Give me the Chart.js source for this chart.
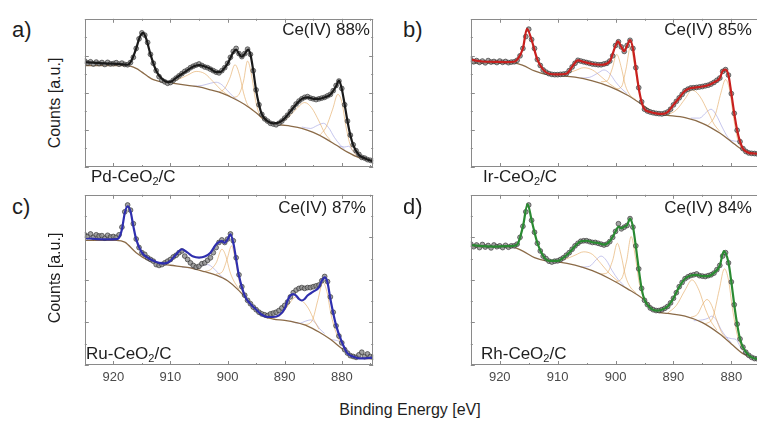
<!DOCTYPE html>
<html>
<head>
<meta charset="utf-8">
<script src="https://cdn.jsdelivr.net/npm/chart.js@4/dist/chart.umd.min.js"></script>
<style>
  html, body { margin: 0; padding: 0; background: #fff; overflow: hidden; }
  #wrap { position: relative; width: 757px; height: 421px; overflow: hidden; font-family: "Liberation Sans", Arial, sans-serif; color: #1e1e1e; }
  canvas { position: absolute; }
  .txt { position: absolute; white-space: nowrap; }
  .letter { font-size: 22px; line-height: 22px; }
  .ce { font-size: 17px; line-height: 17px; width: 110px; text-align: right; }
  .sample { font-size: 17px; line-height: 17px; }
  .sample sub { font-size: 11px; vertical-align: -3px; line-height: 0; }
  .ylab { font-size: 16px; line-height: 16px; transform: translate(-50%, -50%) rotate(-90deg); }
  .xlab { font-size: 16px; line-height: 16px; transform: translate(-50%, -50%); }
</style>
</head>
<body>
<div id="wrap">
  <canvas id="chartA" width="298" height="178" style="left:80px;top:14px"></canvas>
  <canvas id="chartB" width="302" height="178" style="left:466px;top:14px"></canvas>
  <canvas id="chartC" width="298" height="199" style="left:80px;top:190px"></canvas>
  <canvas id="chartD" width="302" height="199" style="left:466px;top:190px"></canvas>

  <div class="txt letter" style="left:12px;top:19px">a)</div>
  <div class="txt letter" style="left:403px;top:19px">b)</div>
  <div class="txt letter" style="left:12px;top:196px">c)</div>
  <div class="txt letter" style="left:403px;top:196px">d)</div>

  <div class="txt ce" style="left:260px;top:21px">Ce(IV) 88%</div>
  <div class="txt ce" style="left:642px;top:21px">Ce(IV) 85%</div>
  <div class="txt ce" style="left:256px;top:199px">Ce(IV) 87%</div>
  <div class="txt ce" style="left:642px;top:199px">Ce(IV) 84%</div>

  <div class="txt sample" style="left:91px;top:168px">Pd-CeO<sub>2</sub>/C</div>
  <div class="txt sample" style="left:483px;top:168px">Ir-CeO<sub>2</sub>/C</div>
  <div class="txt sample" style="left:86px;top:345px">Ru-CeO<sub>2</sub>/C</div>
  <div class="txt sample" style="left:481px;top:345px">Rh-CeO<sub>2</sub>/C</div>

  <div class="txt ylab" style="left:55px;top:103px">Counts [a.u.]</div>
  <div class="txt ylab" style="left:55px;top:278px">Counts [a.u.]</div>
  <div class="txt xlab" style="left:410px;top:410px">Binding Energy [eV]</div>
</div>

<script>
// x axis
const tickLabels = [920, 910, 900, 890, 880];
const minorTicks = [915, 905, 895, 885, 875];

// energy grid of the measured points (eV)
const energyHalf = [
  925, 924.5, 924, 923.5, 923, 922.5, 922, 921.5, 921, 920.5,
  920, 919.5, 919, 918.5, 918, 917.5, 917, 916.5, 916, 915.5,
  915, 914.5, 914, 913.5, 913, 912.5, 912, 911.5, 911, 910.5,
  910, 909.5, 909, 908.5, 908, 907.5, 907, 906.5, 906, 905.5,
  905, 904.5, 904, 903.5, 903, 902.5, 902, 901.5, 901, 900.5,
  900, 899.5, 899, 898.5, 898, 897.5, 897, 896.5, 896, 895.5,
  895, 894.5, 894, 893.5, 893, 892.5, 892, 891.5, 891, 890.5,
  890, 889.5, 889, 888.5, 888, 887.5, 887, 886.5, 886, 885.5,
  885, 884.5, 884, 883.5, 883, 882.5, 882, 881.5, 881, 880.5,
  880, 879.5, 879, 878.5, 878, 877.5, 877, 876.5, 876, 875.5,
  875, 874.5
];

// ---- a) Pd-CeO2/C ----
const pointsA = [
  71.5, 70.2, 71, 69.5, 70.8, 69.8, 70.5, 69.2, 70.6, 69.6,
  69.8, 70.4, 69.4, 70.1, 69.2, 69, 70.5, 74, 80, 86.5,
  90.5, 89, 84, 76, 70, 65, 61, 58.5, 57.5, 56.5,
  57, 58.5, 60, 61.5, 63, 64.5, 65.5, 67, 68, 68.8,
  69.5, 68.5, 67.5, 67, 66, 65, 64, 63.5, 65, 67,
  70, 74, 78, 80, 76.5, 74.5, 76.5, 79.5, 76, 65,
  52, 42, 35.5, 32.5, 31, 29.5, 29, 28.5, 29.5, 31,
  33, 35, 37.5, 40, 42.5, 44.5, 46, 47, 47.5, 46.5,
  46, 45.5, 46, 46.5, 47, 48, 49, 51.5, 55, 58,
  53, 42, 31, 21.5, 15, 11, 8.5, 6.5, 6, 5,
  4.5, 4
];
const fitA = [
  [925, 70.8], [923, 70.2], [921, 69.8], [919, 69.5], [917.5, 69], [916.8, 72], [916, 80],
  [915.4, 87.5], [914.8, 90.5], [914.2, 86], [913.5, 76], [912.5, 65], [911.5, 59.5], [910.5, 57.3],
  [910, 57.4], [909, 60.2], [907.5, 64], [906, 67.8], [905, 68.8], [904, 67.8], [903, 66.3],
  [902, 64], [901.3, 64], [900.5, 67], [900, 69.7], [899, 77.3], [898.5, 79.2], [898, 76.3],
  [897.5, 74.4], [897, 76.3], [896.4, 79.2], [896, 76], [895.5, 65], [895, 51.7], [894.5, 42.2],
  [894, 35.6], [893, 30.9], [892, 29.4], [891, 30], [890, 32.8], [889, 37.5], [888, 42.2],
  [887, 46], [886, 47], [885, 46], [884, 46], [883, 47], [882, 48.9], [881, 54.5], [880.5, 58.3],
  [880, 52.7], [879.5, 42.2], [879, 30.9], [878.5, 21.4], [878, 14.8], [877, 8.1], [876, 5.9],
  [875, 4.4], [874.5, 4]
];
const backgroundA = [
  [925, 68.4], [917.5, 68.4], [916, 66.5], [915, 64], [914, 61.2], [913, 58.9], [912, 57.8],
  [910, 56.8], [907, 55.1], [905, 54], [903, 52], [901, 49.8], [899, 46.4], [897, 42.2],
  [895, 36.6], [893, 30.3], [891, 28.6], [889, 27.6], [887, 26.1], [885, 23.3], [883, 19.5],
  [881, 14.8], [879, 10], [877, 6.3], [875, 4.5], [874.5, 4.3]
];
const orangeA = [
  [[911, 56.5], [909, 58.5], [907, 62], [905.5, 64.5], [904, 63], [902.5, 57.5], [901, 51.5], [899.5, 47.5]],
  [[901.5, 50.5], [900.5, 53], [899.6, 60], [898.7, 69], [897.9, 62], [897.2, 50], [896.5, 42], [895.5, 38.5]],
  [[899, 46.8], [898, 49], [897.2, 58], [896.5, 71.5], [895.8, 62], [895.1, 45], [894.4, 35], [893.5, 31.5]],
  [[891, 29], [889.5, 33], [888, 39], [886.5, 43.5], [885.3, 40], [884, 31], [883, 23], [882, 18]],
  [[884, 21], [882.8, 26.5], [881.6, 39], [880.7, 49], [880, 44], [879.3, 28], [878.5, 14.5], [877.5, 8]]
];
const violetA = [
  [[906, 54.5], [904.5, 55], [903, 56.5], [902, 57.2], [901, 55.5], [900, 51.5], [899, 47.5], [898, 44.5]],
  [[887, 27], [885.5, 26], [884.3, 28], [883.2, 29.5], [882.3, 26.5], [881.3, 20], [880.3, 15], [879.5, 12]],
  [[880.5, 14], [879.5, 13.5], [878.8, 14], [878, 10.5], [877, 6.8], [876, 5]]
];

// ---- b) Ir-CeO2/C ----
const pointsB = [
  72.5, 71, 71.8, 70.6, 71.5, 70.3, 71.8, 70.8, 71.2, 70.5,
  71.5, 70.6, 71.2, 70.4, 70.8, 71, 72, 75, 80, 88,
  93, 86, 80, 72.5, 68.5, 65.5, 64, 63, 62.5, 62.3,
  62.3, 62.5, 62.7, 63, 65, 67.5, 70, 72, 71.5, 71,
  70.5, 70, 69.5, 69.3, 69, 69, 69.5, 70, 71.5, 75,
  82, 84.5, 81, 78, 82, 85.5, 80, 67, 53.5, 44,
  39, 37.8, 37.1, 36.6, 36.2, 36, 35.8, 36.3, 37.1, 39,
  41.9, 44.3, 46.7, 49, 51.4, 52.5, 53.3, 53.5, 53.7, 54,
  54.3, 54.8, 55.2, 56, 57.1, 58.5, 60, 64.5, 65.7, 62,
  49.5, 36.2, 24.8, 17.1, 12.4, 10.5, 9.5, 9.2, 9.1, 8.8,
  8.6, 8.5
];
const fitB = [
  [925, 72.4], [923, 71.2], [921, 71], [919, 70.8], [917.5, 71], [917, 72.4], [916, 80],
  [915.3, 93.3], [914.5, 85.7], [913.5, 72.4], [912.5, 65.7], [911.5, 62.9], [910, 62.5],
  [908.5, 62.9], [907.5, 67.6], [906.5, 72], [905.5, 70.9], [904, 69.5], [902.5, 69], [901, 71.4],
  [900, 81.9], [899.6, 84.8], [899, 81], [898.5, 78.1], [898, 81.9], [897.5, 85.7], [897, 80],
  [896.5, 66.7], [896, 53.3], [895.5, 43.8], [895, 39], [894, 37.1], [893, 36.2], [892, 35.8],
  [891, 37.1], [890, 41.9], [889, 46.7], [888, 51.4], [887, 53.3], [886, 53.7], [885, 54.3],
  [884, 55.2], [883, 57.1], [882, 60], [881.5, 64.8], [881, 65.7], [880.5, 61.9], [880, 49.5],
  [879.5, 36.2], [879, 24.8], [878.5, 17.1], [878, 12.4], [877, 9.5], [876, 9.1], [874.5, 8.6]
];
const backgroundB = [
  [925, 70.1], [917.5, 70.1], [916, 68.6], [914, 64.8], [912, 62.5], [910, 61.7], [907, 60.6],
  [904, 58.1], [901, 54.3], [898, 48.6], [895, 41], [893, 35.8], [891, 34.8], [888, 33.3],
  [885, 29.5], [882, 22.9], [880, 17.1], [878, 11.4], [876, 9.3], [874.5, 8.8]
];
const orangeB = [
  [[911, 61.5], [909, 62.5], [907, 65], [905.5, 67], [904, 65.5], [902.5, 61], [901, 56], [899.5, 52]],
  [[902.5, 57.5], [901.5, 58], [900.6, 66], [899.8, 76], [899, 67], [898.3, 55], [897.5, 48.5], [896.5, 45.5]],
  [[900, 52.5], [899, 54], [898.2, 66], [897.4, 81.5], [896.7, 68], [896, 52], [895.3, 42], [894.5, 39]],
  [[891, 35.2], [889.5, 38.5], [888, 46], [886.8, 52], [885.5, 48], [884, 37], [883, 29], [882, 24]],
  [[884, 28], [882.8, 35], [881.8, 50], [881, 59], [880.3, 52], [879.6, 33], [878.8, 17], [877.8, 11.5]]
];
const violetB = [
  [[906, 60], [904.5, 60.5], [903, 63.5], [902, 65.5], [901, 63], [900, 57.5], [899, 53], [898, 49.5]],
  [[887, 33], [885.5, 33], [884.3, 37], [883.5, 39], [882.6, 35], [881.6, 27], [880.6, 20], [879.5, 15.5]],
  [[880.5, 18.5], [879.5, 17.5], [878.8, 17], [878, 13], [877, 10], [876, 9.3]]
];

// ---- c) Ru-CeO2/C ----
const pointsC = [
  76.5, 75.5, 77, 75, 76.5, 75.8, 76, 74.5, 76.2, 75.2,
  75.5, 75, 76.5, 81, 90, 94, 91, 83, 74, 69,
  66, 65, 63, 62, 61, 59, 58.5, 59, 60, 61,
  62, 63.5, 64.5, 66, 67, 64, 62, 60, 58.5, 57.5,
  58, 59.5, 60, 61.5, 63, 66, 69, 72, 73.5, 72,
  74, 77, 73, 63, 53, 46, 41, 38, 36, 34,
  32.5, 31, 30, 29.5, 29, 30, 30.5, 31, 32, 33.5,
  35, 37, 40, 42.5, 44, 45, 45.5, 45, 45.5, 45.5,
  46, 46.5, 47, 49.5, 52, 49, 40, 31, 23, 17,
  13, 9, 7, 5.5, 5, 4.5, 6, 7.5, 5, 6.5,
  5, 4.5
];
const fitC = [
  [925, 74.5], [923, 74], [921, 73.8], [919.5, 73.9], [919, 74.8], [918.5, 79.6], [918, 89.3],
  [917.5, 93.2], [917, 90.3], [916.5, 81.6], [916, 73.8], [915, 66], [914, 63.1], [913, 61.2],
  [912, 60], [911, 59.7], [910, 61.2], [909, 65], [908, 68], [907, 66], [906, 63.7], [905, 63.1],
  [904, 63.7], [903, 66], [902, 70.9], [901, 72.8], [900.5, 71.8], [900, 73.8], [899.5, 76.7],
  [899, 71.8], [898.5, 62.1], [898, 52.4], [897, 40.8], [896, 35.9], [895, 32.6], [894, 29.5],
  [893, 28.2], [892, 28.2], [891, 29.1], [890, 33], [889.5, 37.9], [889, 40.8], [888.5, 41.7],
  [888, 40.8], [887.5, 38.8], [887, 37.9], [886.5, 38.8], [886, 40.8], [885, 43.1], [884, 45.6],
  [883.5, 49.5], [883, 51.5], [882.5, 48.5], [882, 38.8], [881, 23.3], [880, 13.6], [879, 6.8],
  [878, 4.9], [877, 3.9], [876, 3.9], [874.5, 4.3]
];
const backgroundC = [
  [925, 73.2], [919.5, 73.2], [918, 72.2], [916, 66], [914, 61.7], [912, 59.6], [910, 58.6],
  [907, 57.3], [904, 54.8], [902, 52.8], [900, 49.5], [898, 43.7], [896, 35.9], [894, 29.3],
  [892, 27], [890, 26.2], [888, 24.9], [886, 22.9], [884, 19.4], [882, 15.1], [880, 9.7],
  [878, 4.8], [876, 3.8], [874.5, 3.7]
];
const orangeC = [
  [[904, 55], [903, 56], [902, 60], [901, 68], [900.3, 64], [899.6, 55], [899, 50], [898, 44.5]],
  [[902, 53.5], [901, 54.5], [900.1, 62], [899.3, 70], [898.6, 61], [898, 50], [897.3, 42], [896.5, 37.5]],
  [[892, 27.2], [890.5, 30], [889, 37], [888, 40], [887, 38], [885.8, 33], [884.8, 26], [884, 21]],
  [[886.5, 23.5], [885.2, 26], [884.2, 38], [883.3, 48.5], [882.6, 43], [881.9, 30], [881, 19], [880, 11.5]]
];
const violetC = [
  [[908, 57.5], [906, 57], [904.5, 58.5], [903.5, 59], [902.5, 57], [901.5, 53.5], [900.5, 50.5]],
  [[889, 25.8], [887.5, 24.5], [886.3, 25.8], [885.5, 26.5], [884.7, 25], [883.8, 21], [883, 18.5]],
  [[882, 15], [881, 14.5], [880, 13], [879.2, 9.5], [878.2, 6], [877, 4.2]]
];

// ---- d) Rh-CeO2/C ----
const pointsD = [
  71, 69.5, 70.5, 69, 70.8, 69.3, 70.2, 68.8, 70.5, 69.5,
  70, 69, 70.3, 69.2, 70, 70, 71, 75, 81.5, 90,
  94, 85, 78, 71.5, 67, 64, 62.5, 61, 60.5, 61,
  61.2, 62, 63, 64.5, 66, 68, 70, 71.5, 72.7, 73,
  73, 72.5, 72, 72, 71.5, 71, 70.5, 71, 72.5, 75,
  78.5, 83, 80, 81, 82, 86, 81, 70, 56.5, 45,
  38, 35.5, 33.5, 32.5, 32, 32, 32.5, 33.3, 34.4, 36.5,
  39.2, 42.5, 46, 48.5, 50.7, 51.8, 52.6, 53, 53.5, 52.5,
  52.2, 52, 52.5, 53, 54, 56, 58.5, 64, 66, 60,
  48.8, 35.4, 24, 15.3, 10.5, 7.5, 5.7, 4.5, 3.8, 3.6,
  3.5, 3.4
];
const fitD = [
  [925, 70.5], [923, 69.8], [921, 69.6], [919, 69.8], [918, 69.8], [917, 70.7], [916, 81.3],
  [915.2, 94.6], [914.5, 85.1], [913.5, 71.7], [912.5, 64.1], [911.5, 61.2], [910, 61.2],
  [909, 63.1], [908, 66], [907, 69.8], [906, 72.7], [905, 73], [904, 72.1], [903, 71.7],
  [902, 70.7], [901, 72.7], [900, 78.4], [899.5, 81.3], [899, 80.3], [898.5, 81.3], [898, 82.2],
  [897.5, 86], [897, 81.3], [896.5, 69.8], [896, 56.4], [895.5, 44.9], [895, 38.2], [894, 33.5],
  [893, 31.9], [892, 32.5], [891, 34.4], [890, 39.2], [889, 45.9], [888, 50.7], [887, 52.6],
  [886, 53], [885, 52.2], [884, 52.2], [883, 54.1], [882, 58.3], [881.3, 66.9], [880.5, 60.2],
  [880, 48.8], [879.5, 35.4], [879, 23.9], [878.5, 15.3], [878, 10.5], [877, 5.7], [876, 3.8],
  [874.5, 3.4]
];
const backgroundD = [
  [925, 69.4], [918, 69.4], [916, 66.9], [914, 63.1], [912, 61.2], [910, 60.6], [907, 58.7],
  [904, 55.4], [901, 50.7], [898, 44.9], [895, 38.2], [893, 31.5], [891, 30.3], [888, 28.7],
  [885, 24.9], [882, 18.2], [880, 12.4], [878, 6.7], [876, 3.8], [874.5, 3.4]
];
const orangeD = [
  [[911, 60.8], [909, 61.8], [907, 64.5], [905.5, 66.5], [904, 65], [902.5, 59.5], [901, 53.5], [899.5, 49]],
  [[902.5, 53.5], [901.5, 54], [900.5, 61.5], [899.7, 71.5], [899, 64], [898.3, 52.5], [897.5, 46], [896.5, 42.5]],
  [[900, 49], [899, 50.5], [898.1, 61], [897.3, 75.5], [896.6, 64], [895.9, 48], [895.2, 40], [894.3, 35]],
  [[891, 30.5], [889.5, 35], [888, 44], [886.8, 50], [885.6, 44], [884.5, 33], [883.5, 25.5], [882.5, 20.5]],
  [[887, 28], [885.8, 30], [884.9, 36], [884.2, 38.5], [883.4, 35], [882.6, 27], [881.8, 20], [881, 16]],
  [[884.5, 24], [883.2, 28], [882.1, 44], [881.2, 56.5], [880.5, 50], [879.8, 33], [879, 18], [878, 8.5]]
];
const violetD = [
  [[906, 57.5], [904.5, 58], [903.3, 62], [902.5, 64], [901.6, 61.5], [900.6, 55.5], [899.5, 50], [898.5, 46.5]],
  [[886.5, 26], [885, 26.5], [884, 27.5], [883.4, 28.7], [882.6, 26.5], [881.8, 21], [881, 17], [880, 13]],
  [[881, 16.5], [880, 15.5], [879.2, 15], [878.5, 11], [877.5, 6.5], [876.5, 4.3]]
];

const FONT = '"Liberation Sans", Arial, sans-serif';
const toXY = arr => arr.map(([x, y]) => ({ x, y }));

// box + inward ticks on all four sides
const framePlugin = {
  id: 'frame',
  afterDraw(chart) {
    const { ctx, chartArea: a, scales } = chart;
    const xs = scales.x, ys = scales.y;
    ctx.save();
    ctx.strokeStyle = '#8a8a8a';
    ctx.lineWidth = 1;
    ctx.strokeRect(Math.round(a.left) + 0.5, Math.round(a.top) + 0.5,
      Math.round(a.right - a.left) - 1, Math.round(a.bottom - a.top) - 1);
    ctx.beginPath();
    const xt = (vals, len) => vals.forEach(v => {
      const px = Math.round(xs.getPixelForValue(v)) + 0.5;
      ctx.moveTo(px, a.bottom); ctx.lineTo(px, a.bottom - len);
      ctx.moveTo(px, a.top); ctx.lineTo(px, a.top + len);
    });
    const yt = (vals, len) => vals.forEach(v => {
      const py = Math.round(ys.getPixelForValue(v)) + 0.5;
      ctx.moveTo(a.left, py); ctx.lineTo(a.left + len, py);
      ctx.moveTo(a.right, py); ctx.lineTo(a.right - len, py);
    });
    xt(tickLabels, 4); xt(minorTicks, 2);
    yt([0, 25, 50, 75, 100], 4); yt([12.5, 37.5, 62.5, 87.5], 2);
    ctx.stroke();
    ctx.restore();
  }
};

function makeChart(id, points, fit, background, orange, violet, color, showTicks) {
  const datasets = [
    { data: toXY(fit), borderColor: color, borderWidth: 2.2, pointRadius: 0,
      cubicInterpolationMode: 'monotone', order: 0 },
    { type: 'scatter', data: energyHalf.map((x, i) => ({ x, y: points[i] })), showLine: false,
      pointRadius: 2.4, pointBackgroundColor: 'rgba(140,140,140,0.8)',
      pointBorderColor: 'rgba(45,45,45,0.8)', pointBorderWidth: 0.8, order: 1 },
    { data: toXY(background), borderColor: '#8b6b48', borderWidth: 1.3, pointRadius: 0,
      cubicInterpolationMode: 'monotone', order: 2 }
  ];
  orange.forEach(c => datasets.push({ data: toXY(c), borderColor: 'rgba(228,170,100,0.7)',
    borderWidth: 0.9, pointRadius: 0, cubicInterpolationMode: 'monotone', order: 3 }));
  violet.forEach(c => datasets.push({ data: toXY(c), borderColor: 'rgba(170,170,228,0.75)',
    borderWidth: 0.9, pointRadius: 0, cubicInterpolationMode: 'monotone', order: 4 }));

  return new Chart(document.getElementById(id), {
    type: 'line',
    data: { datasets },
    options: {
      responsive: false,
      animation: false,
      devicePixelRatio: 1,
      layout: { padding: { left: 1, right: 1, top: 1, bottom: showTicks ? 0 : 1 } },
      plugins: { legend: { display: false }, tooltip: { enabled: false } },
      scales: {
        x: {
          type: 'linear', reverse: true, min: 874.5, max: 925,
          display: showTicks,
          grid: { display: false, drawTicks: false },
          border: { display: false },
          ticks: { color: '#4a4a4a', font: { family: FONT, size: 13 }, padding: 5,
            maxRotation: 0, autoSkip: false },
          afterBuildTicks: s => { s.ticks = tickLabels.map(v => ({ value: v })); },
          afterFit: s => { s.height = 24; }
        },
        y: { type: 'linear', min: 0, max: 100, display: false }
      }
    },
    plugins: [framePlugin]
  });
}

makeChart('chartA', pointsA, fitA, backgroundA, orangeA, violetA, '#1a1a1a', false);
makeChart('chartB', pointsB, fitB, backgroundB, orangeB, violetB, '#c8201e', false);
makeChart('chartC', pointsC, fitC, backgroundC, orangeC, violetC, '#2f2fae', true);
makeChart('chartD', pointsD, fitD, backgroundD, orangeD, violetD, '#2a8a32', true);
</script>
</body>
</html>
